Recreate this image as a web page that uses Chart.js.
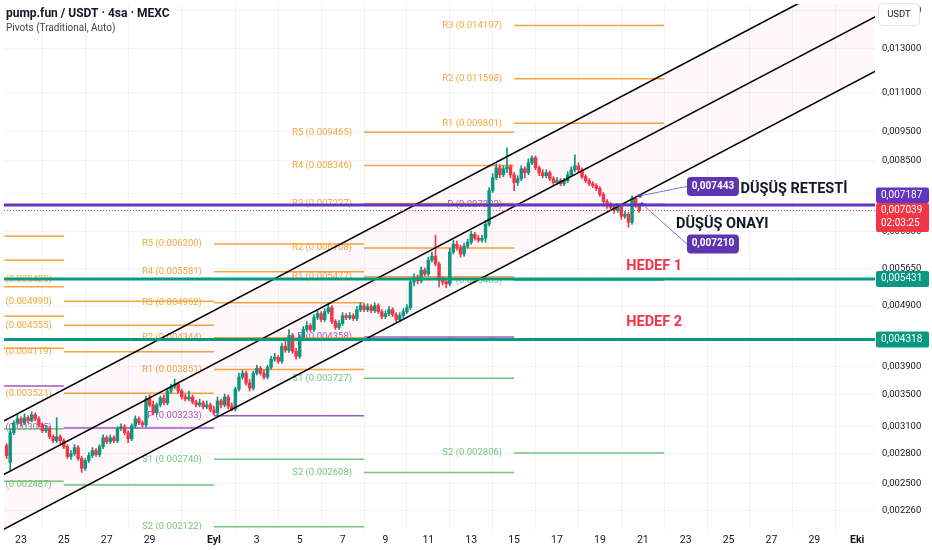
<!DOCTYPE html>
<html>
<head>
<meta charset="utf-8">
<script src="https://cdn.jsdelivr.net/npm/chart.js@4.4.1/dist/chart.umd.min.js"></script>
<style>
  html, body { margin: 0; padding: 0; background: #fff; }
  #wrap { width: 932px; height: 550px; }
</style>
</head>
<body>
<div id="wrap"><canvas id="chart" width="932" height="550"></canvas></div>
<script>
/* ---------- DATA ---------- */

// time axis in days counted from Aug 1 (Sep 1 = 32), 4h candles
const firstBar = 22 + 8 / 24;
const barStep = 4 / 24;

const opens = [
  0.002886,0.002708,0.003031,0.003147,0.003195,0.003147,
  0.003208,0.003171,0.003244,0.003195,0.003124,0.003054,
  0.003077,0.002986,0.002941,0.002986,0.002941,0.002875,
  0.002770,0.002801,0.002865,0.002749,0.002648,0.002728,
  0.002780,0.002833,0.002790,0.002875,0.002975,0.002930,
  0.002975,0.002941,0.003077,0.003100,0.003031,0.002963,
  0.003112,0.003195,0.003147,0.003124,0.003445,0.003368,
  0.003268,0.003368,0.003458,0.003394,0.003550,0.003604,
  0.003645,0.003550,0.003471,0.003445,0.003471,0.003406,
  0.003368,0.003394,0.003343,0.003368,0.003305,0.003268,
  0.003419,0.003368,0.003471,0.003355,0.003318,0.003577,
  0.003743,0.003799,0.003659,0.003590,0.003799,0.003871,
  0.003799,0.003743,0.003885,0.004005,0.004035,0.003974,
  0.004205,0.004143,0.004383,0.004127,0.004050,0.004350,
  0.004483,0.004551,0.004483,0.004690,0.004761,0.004655,
  0.004797,0.004870,0.004620,0.004517,0.004585,0.004725,
  0.004690,0.004725,0.004672,0.004833,0.004907,0.004833,
  0.004888,0.004815,0.004907,0.004797,0.004708,0.004761,
  0.004833,0.004743,0.004655,0.004725,0.004797,0.004870,
  0.005370,0.005452,0.005390,0.005618,0.005534,0.005834,
  0.005922,0.005747,0.005411,0.005370,0.005330,0.006012,
  0.006195,0.006126,0.005967,0.006149,0.006242,0.006433,
  0.006337,0.006290,0.006337,0.006680,0.007591,0.007972,
  0.008277,0.008062,0.008246,0.008308,0.008062,0.007823,
  0.007942,0.008246,0.008123,0.008434,0.008595,0.008277,
  0.008123,0.008032,0.008123,0.007942,0.007823,0.007882,
  0.007794,0.007882,0.008062,0.008215,0.008340,0.008215,
  0.008002,0.007882,0.007794,0.007735,0.007649,0.007478,
  0.007283,0.007175,0.007121,0.007041,0.007148,0.006884,
  0.006936,0.006730,0.007366,0.007175
];
const highs = [
  0.002908,0.003077,0.003171,0.003244,0.003220,0.003256,
  0.003232,0.003281,0.003268,0.003220,0.003147,0.003112,
  0.003100,0.003008,0.003208,0.003008,0.002963,0.002897,
  0.002833,0.002897,0.002886,0.002770,0.002749,0.002811,
  0.002865,0.002854,0.002897,0.003008,0.002997,0.003008,
  0.002997,0.003100,0.003136,0.003124,0.003054,0.003136,
  0.003232,0.003220,0.003171,0.003484,0.003497,0.003419,
  0.003394,0.003484,0.003497,0.003590,0.003645,0.003715,
  0.003672,0.003577,0.003510,0.003550,0.003497,0.003432,
  0.003445,0.003419,0.003419,0.003394,0.003355,0.003471,
  0.003445,0.003510,0.003497,0.003394,0.003604,0.003799,
  0.003842,0.003828,0.003715,0.003828,0.003915,0.003900,
  0.003842,0.003915,0.004050,0.004096,0.004065,0.004253,
  0.004285,0.004483,0.004416,0.004174,0.004399,0.004534,
  0.004620,0.004585,0.004743,0.004815,0.004797,0.004852,
  0.004944,0.004907,0.004655,0.004637,0.004779,0.004761,
  0.004779,0.004761,0.004888,0.004962,0.004944,0.004944,
  0.004925,0.004962,0.004944,0.004833,0.004815,0.004888,
  0.004870,0.004779,0.004779,0.004852,0.004925,0.005452,
  0.005534,0.005514,0.005682,0.005661,0.005900,0.006012,
  0.006409,0.005790,0.005472,0.005431,0.006103,0.006290,
  0.006266,0.006172,0.006219,0.006314,0.006506,0.006482,
  0.006409,0.006409,0.006781,0.007677,0.008092,0.008402,
  0.008371,0.008340,0.008925,0.008371,0.008123,0.008032,
  0.008340,0.008308,0.008563,0.008660,0.008660,0.008340,
  0.008215,0.008215,0.008184,0.008002,0.007972,0.007942,
  0.007942,0.008153,0.008308,0.008692,0.008434,0.008277,
  0.008062,0.007942,0.007853,0.007794,0.007706,0.007534,
  0.007338,0.007256,0.007175,0.007229,0.007202,0.007015,
  0.006988,0.007443,0.007400,0.007229
];
const lows = [
  0.002749,0.002627,0.003008,0.003124,0.003112,0.003124,
  0.003147,0.003159,0.003171,0.003100,0.003031,0.003031,
  0.002963,0.002919,0.002919,0.002908,0.002854,0.002749,
  0.002739,0.002780,0.002728,0.002608,0.002627,0.002708,
  0.002759,0.002770,0.002770,0.002854,0.002908,0.002908,
  0.002919,0.002919,0.003054,0.003008,0.002919,0.002941,
  0.003089,0.003124,0.003100,0.003100,0.003343,0.003244,
  0.003244,0.003343,0.003368,0.003368,0.003523,0.003577,
  0.003523,0.003445,0.003419,0.003419,0.003381,0.003343,
  0.003343,0.003318,0.003318,0.003281,0.003244,0.003244,
  0.003330,0.003343,0.003318,0.003293,0.003293,0.003550,
  0.003715,0.003631,0.003550,0.003563,0.003771,0.003771,
  0.003715,0.003715,0.003856,0.003974,0.003945,0.003945,
  0.004111,0.004111,0.004096,0.004005,0.004020,0.004317,
  0.004449,0.004449,0.004449,0.004655,0.004620,0.004620,
  0.004761,0.004585,0.004483,0.004483,0.004551,0.004655,
  0.004655,0.004637,0.004637,0.004797,0.004797,0.004797,
  0.004779,0.004779,0.004761,0.004672,0.004672,0.004725,
  0.004708,0.004620,0.004620,0.004690,0.004761,0.004833,
  0.005290,0.005330,0.005350,0.005493,0.005493,0.005790,
  0.005704,0.005270,0.005310,0.005250,0.005290,0.005967,
  0.006057,0.005900,0.005922,0.006103,0.006195,0.006290,
  0.006242,0.006242,0.006242,0.006630,0.007534,0.007912,
  0.007972,0.008002,0.008123,0.007972,0.007591,0.007735,
  0.007882,0.007972,0.008062,0.008371,0.008215,0.008032,
  0.007972,0.007972,0.007882,0.007735,0.007764,0.007735,
  0.007735,0.007823,0.008002,0.008153,0.008153,0.007942,
  0.007823,0.007735,0.007677,0.007591,0.007422,0.007229,
  0.007094,0.007041,0.006962,0.006988,0.006806,0.006832,
  0.006605,0.006680,0.007121,0.006988
];
const closes = [
  0.002780,0.003031,0.003147,0.003195,0.003147,0.003208,
  0.003171,0.003244,0.003195,0.003124,0.003054,0.003077,
  0.002986,0.002941,0.002986,0.002941,0.002875,0.002770,
  0.002801,0.002865,0.002749,0.002648,0.002728,0.002780,
  0.002833,0.002790,0.002875,0.002975,0.002930,0.002975,
  0.002941,0.003077,0.003100,0.003031,0.002963,0.003112,
  0.003195,0.003147,0.003124,0.003445,0.003368,0.003268,
  0.003368,0.003458,0.003394,0.003550,0.003604,0.003645,
  0.003550,0.003471,0.003445,0.003471,0.003406,0.003368,
  0.003394,0.003343,0.003368,0.003305,0.003268,0.003419,
  0.003368,0.003471,0.003355,0.003318,0.003577,0.003743,
  0.003799,0.003659,0.003590,0.003799,0.003871,0.003799,
  0.003743,0.003885,0.004005,0.004035,0.003974,0.004205,
  0.004143,0.004383,0.004127,0.004050,0.004350,0.004483,
  0.004551,0.004483,0.004690,0.004761,0.004655,0.004797,
  0.004870,0.004620,0.004517,0.004585,0.004725,0.004690,
  0.004725,0.004672,0.004833,0.004907,0.004833,0.004888,
  0.004815,0.004907,0.004797,0.004708,0.004761,0.004833,
  0.004743,0.004655,0.004725,0.004797,0.004870,0.005370,
  0.005452,0.005390,0.005618,0.005534,0.005834,0.005922,
  0.005747,0.005411,0.005370,0.005330,0.006012,0.006195,
  0.006126,0.005967,0.006149,0.006242,0.006433,0.006337,
  0.006290,0.006337,0.006680,0.007591,0.007972,0.008277,
  0.008062,0.008246,0.008308,0.008062,0.007823,0.007942,
  0.008246,0.008123,0.008434,0.008595,0.008277,0.008123,
  0.008032,0.008123,0.007942,0.007823,0.007882,0.007794,
  0.007882,0.008062,0.008215,0.008340,0.008215,0.008002,
  0.007882,0.007794,0.007735,0.007649,0.007478,0.007283,
  0.007175,0.007121,0.007041,0.007148,0.006884,0.006936,
  0.006730,0.007366,0.007175,0.007039
];

// axes
const xMin = 22.21, xMax = 62.83;
const xTicks = [23,25,27,29,32,34,36,38,40,42,44,46,48,50,52,54,56,58,60,62];
const xLabels = ['23','25','27','29','Eyl','3','5','7','9','11','13','15','17','19','21','23','25','27','29','Eki'];
const monthLabels = ['Eyl','Eki'];
const yMin = 0.0020964, yMax = 0.015398;
const yTicks = [0.015,0.013,0.011,0.0095,0.0085,0.0075,0.0065,0.00565,0.0049,0.0043,0.0039,0.0035,0.0031,0.0028,0.0025,0.00226];

// weekly pivots (Traditional)
const pivotNames = ['R5','R4','R3','R2','R1','P','S1','S2'];
const pivotStarts = [18, 25, 32, 39, 46];
const pivotEnds = [25, 32, 39, 46, 53];
const pivotsAug18 = [0.006383,0.005827,0.005271,0.004715,0.004174,0.003618,0.003077,0.002521];
const pivotsAug25 = [0.005425,0.004990,0.004555,0.004119,0.003521,0.003085,0.002487,0.002051];
const pivotsSep1  = [0.006200,0.005581,0.004962,0.004344,0.003851,0.003233,0.002740,0.002122];
const pivotsSep8  = [0.009465,0.008346,0.007227,0.006108,0.005477,0.004358,0.003727,0.002608];
const pivotsSep15 = [0.019395,0.016796,0.014197,0.011598,0.009801,0.007202,0.005405,0.002806];
const pivotWeeks = [pivotsAug18, pivotsAug25, pivotsSep1, pivotsSep8, pivotsSep15];

// parallel channel (two anchor days)
const channelDays = [22, 63];
const channelTop = [0.003143, 0.01810];
const channelMid = [0.002566, 0.01477];
const channelBot = [0.002085, 0.01201];

// drawn horizontal levels
const levelPrices = [0.007187, 0.005431, 0.004318];
const levelColors = ['#6236c0', '#089981', '#089981'];
const lastPrice = 0.007039;
const countdown = '02:03:25';

// callouts
const calloutValues = [0.007443, 0.007210];
const calloutFromDays = [51.87, 51.97];
const calloutBoxDays = [54.06, 54.06];
const calloutBoxPrices = [0.00771, 0.00620];

// text notes
const noteTexts = ['DÜŞÜŞ RETESTİ', 'DÜŞÜŞ ONAYI', 'HEDEF 1', 'HEDEF 2'];
const noteDays = [56.56, 53.55, 51.23, 51.23];
const notePrices = [0.00762, 0.00668, 0.005704, 0.004603];
const noteColors = ['#131722', '#131722', '#f23645', '#f23645'];

/* ---------- STYLE ---------- */

const FONT = 'Roboto, "Noto Sans", sans-serif';
const UP = '#089981', DOWN = '#f23645';
const GRID = '#f0f3fa';

function pivotColor(name) {
  if (name === 'P') return '#a257c4';
  return name[0] === 'R' ? '#f7a43c' : '#72c57c';
}

function fmt(v) {
  return v.toFixed(6).replace('.', ',');
}

/* ---------- DATASETS ---------- */

const barTimes = opens.map((_, i) => firstBar + i * barStep);
const candleColors = closes.map((c, i) => c >= opens[i] ? UP : DOWN);

const datasets = [];

// pivot segments
pivotWeeks.forEach((levels, p) => {
  levels.forEach((v, k) => {
    datasets.push({
      type: 'line',
      data: [{ x: pivotStarts[p], y: v }, { x: pivotEnds[p], y: v }],
      borderColor: pivotColor(pivotNames[k]),
      borderWidth: 1.5,
      pointRadius: 0,
      fill: false,
      order: 20
    });
  });
});

// channel
const topIndex = datasets.length;
datasets.push({
  type: 'line',
  data: channelDays.map((d, i) => ({ x: d, y: channelTop[i] })),
  borderColor: '#000', borderWidth: 1.6, pointRadius: 0,
  fill: { target: topIndex + 2 }, backgroundColor: 'rgba(233,30,99,0.03)',
  order: 4
});
datasets.push({
  type: 'line',
  data: channelDays.map((d, i) => ({ x: d, y: channelMid[i] })),
  borderColor: '#000', borderWidth: 1.6, pointRadius: 0, fill: false, order: 4
});
datasets.push({
  type: 'line',
  data: channelDays.map((d, i) => ({ x: d, y: channelBot[i] })),
  borderColor: '#000', borderWidth: 1.6, pointRadius: 0, fill: false, order: 4
});

// candles: wick + body
datasets.push({
  type: 'bar',
  data: barTimes.map((t, i) => ({ x: t, y: [lows[i], highs[i]] })),
  backgroundColor: candleColors,
  barThickness: 1,
  grouped: false,
  order: 6
});
datasets.push({
  type: 'bar',
  data: barTimes.map((t, i) => ({ x: t, y: [opens[i], closes[i]] })),
  backgroundColor: candleColors,
  barThickness: 2.8,
  minBarLength: 1,
  grouped: false,
  order: 5
});

// horizontal levels
levelPrices.forEach((v, i) => {
  datasets.push({
    type: 'line',
    data: [{ x: xMin, y: v }, { x: xMax, y: v }],
    borderColor: levelColors[i], borderWidth: 3, pointRadius: 0, fill: false, order: 3
  });
});

// last price dotted line
datasets.push({
  type: 'line',
  data: [{ x: xMin, y: lastPrice }, { x: xMax, y: lastPrice }],
  borderColor: DOWN, borderWidth: 1, borderDash: [1, 2], pointRadius: 0, fill: false, order: 3
});

// callout leader lines
calloutValues.forEach((v, i) => {
  datasets.push({
    type: 'line',
    data: [{ x: calloutFromDays[i], y: v }, { x: calloutBoxDays[i], y: calloutBoxPrices[i] }],
    borderColor: '#8a6fd3', borderWidth: 1,
    pointRadius: [2, 0], pointBackgroundColor: '#5e35b1', pointBorderWidth: 0,
    fill: false, order: 2
  });
});

/* ---------- OVERLAY DRAWING ---------- */

function roundBox(ctx, x, y, w, h, r, fill, stroke) {
  ctx.beginPath();
  ctx.roundRect(x, y, w, h, r);
  if (fill) { ctx.fillStyle = fill; ctx.fill(); }
  if (stroke) { ctx.strokeStyle = stroke; ctx.lineWidth = 1; ctx.stroke(); }
}

const overlay = {
  id: 'overlay',
  beforeDatasetsDraw(chart) {
    const { ctx, chartArea: a, scales: { x, y } } = chart;
    ctx.save();
    ctx.beginPath();
    ctx.rect(a.left, a.top, a.right - a.left, a.bottom - a.top);
    ctx.clip();
    ctx.font = '9.5px ' + FONT;
    ctx.textAlign = 'right';
    ctx.textBaseline = 'middle';
    pivotWeeks.forEach((levels, p) => {
      const px = x.getPixelForValue(pivotStarts[p]) - 12;
      levels.forEach((v, k) => {
        ctx.fillStyle = pivotColor(pivotNames[k]);
        ctx.fillText(`${pivotNames[k]} (${v.toFixed(6)})`, px, y.getPixelForValue(v));
      });
    });
    ctx.restore();
  },
  afterDatasetsDraw(chart) {
    const { ctx, scales: { x, y } } = chart;
    ctx.save();
    // callout price boxes
    ctx.font = 'bold 10px ' + FONT;
    ctx.textAlign = 'center';
    ctx.textBaseline = 'middle';
    calloutValues.forEach((v, i) => {
      const bx = x.getPixelForValue(calloutBoxDays[i]);
      const by = y.getPixelForValue(calloutBoxPrices[i]);
      roundBox(ctx, bx, by - 9.5, 52, 19, 4, '#5e35b1');
      ctx.fillStyle = '#fff';
      ctx.fillText(fmt(v), bx + 26, by);
    });
    // notes
    ctx.textAlign = 'left';
    ctx.font = 'bold 14.5px ' + FONT;
    noteTexts.forEach((t, i) => {
      ctx.fillStyle = noteColors[i];
      ctx.fillText(t, x.getPixelForValue(noteDays[i]), y.getPixelForValue(notePrices[i]));
    });
    ctx.restore();
  },
  afterDraw(chart) {
    const { ctx, chartArea: a, scales: { y } } = chart;
    ctx.save();
    ctx.textBaseline = 'middle';
    ctx.textAlign = 'left';
    const bx = a.right + 1, bw = 53;
    ctx.font = '10px ' + FONT;

    // last price badge (with countdown) and the purple level pushed above it
    const lastY = y.getPixelForValue(lastPrice);
    const redTop = lastY - 7.5;
    roundBox(ctx, bx, redTop, bw, 29, 2, DOWN);
    ctx.fillStyle = '#fff';
    ctx.fillText(fmt(lastPrice), bx + 5, lastY);
    ctx.fillText(countdown, bx + 5, lastY + 13);

    roundBox(ctx, bx, redTop - 15.5, bw, 15.5, 2, levelColors[0]);
    ctx.fillStyle = '#fff';
    ctx.fillText(fmt(levelPrices[0]), bx + 5, redTop - 7.5);

    for (let i = 1; i < levelPrices.length; i++) {
      const ly = y.getPixelForValue(levelPrices[i]);
      roundBox(ctx, bx, ly - 8, bw, 16, 2, levelColors[i]);
      ctx.fillStyle = '#fff';
      ctx.fillText(fmt(levelPrices[i]), bx + 5, ly);
    }

    // currency button
    roundBox(ctx, a.right + 3.5, 3.5, 41, 22, 4, '#fff', '#e0e3eb');
    ctx.fillStyle = '#131722';
    ctx.textAlign = 'center';
    ctx.font = '9.5px ' + FONT;
    ctx.fillText('USDT', a.right + 24, 14.5);

    // legend text
    ctx.textAlign = 'left';
    ctx.font = 'bold 12px ' + FONT;
    ctx.fillStyle = '#131722';
    ctx.fillText('pump.fun / USDT · 4sa · MEXC', 6, 14);
    ctx.font = '10px ' + FONT;
    ctx.fillStyle = '#42464f';
    ctx.fillText('Pivots (Traditional, Auto)', 6, 28);
    ctx.restore();
  }
};

/* ---------- CHART ---------- */

new Chart(document.getElementById('chart'), {
  type: 'line',
  data: { datasets },
  plugins: [overlay],
  options: {
    responsive: false,
    animation: false,
    events: [],
    layout: { padding: 0 },
    plugins: { legend: { display: false }, tooltip: { enabled: false } },
    scales: {
      x: {
        type: 'linear',
        min: xMin, max: xMax,
        offset: false,
        afterBuildTicks: s => { s.ticks = xTicks.map(v => ({ value: v })); },
        afterFit: s => { s.height = 20; s.paddingLeft = 0; s.paddingRight = 0; },
        grid: { color: GRID, drawTicks: false },
        border: { display: false },
        ticks: {
          autoSkip: false, maxRotation: 0, padding: 4, color: '#131722',
          callback: v => xLabels[xTicks.indexOf(v)],
          font: ctx => ({
            family: FONT, size: 10.5,
            weight: ctx.tick && monthLabels.includes(xLabels[xTicks.indexOf(ctx.tick.value)]) ? 'bold' : 'normal'
          })
        }
      },
      y: {
        type: 'logarithmic',
        position: 'right',
        min: yMin, max: yMax,
        afterBuildTicks: s => { s.ticks = yTicks.map(v => ({ value: v })); },
        afterFit: s => { s.width = 57; s.paddingTop = 0; s.paddingBottom = 0; },
        grid: { color: GRID, drawTicks: false },
        border: { display: false },
        ticks: {
          padding: 7, color: '#131722',
          font: { family: FONT, size: 9.5 },
          callback: v => fmt(v)
        }
      }
    }
  }
});
</script>
</body>
</html>
